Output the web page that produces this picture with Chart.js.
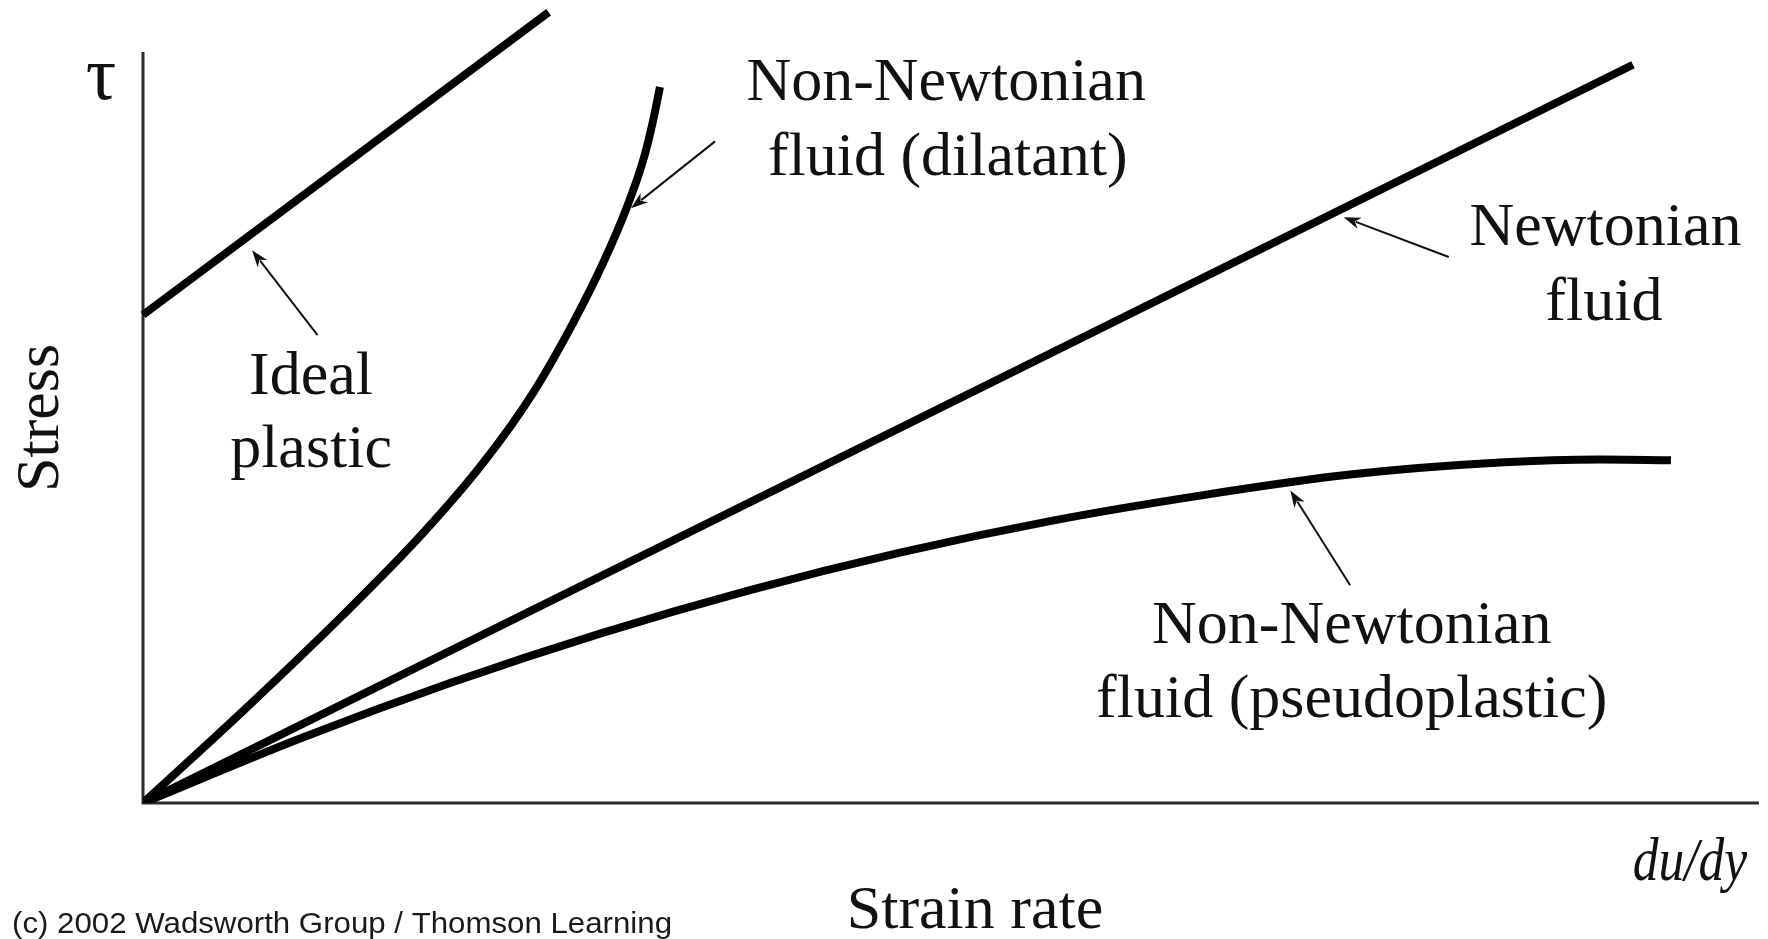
<!DOCTYPE html>
<html>
<head>
<meta charset="utf-8">
<script src="https://cdn.jsdelivr.net/npm/chart.js@4.4.0/dist/chart.umd.min.js"></script>
<style>
  html, body { margin: 0; padding: 0; background: #fff; }
  canvas { display: block; }
</style>
</head>
<body>
<canvas id="stressChart" width="1768" height="939"></canvas>
<script>
// strain rate (x) and stress (y), arbitrary units 0..10
var idealX = [0, 2.51];
var idealY = [6.50, 10.53];

var newtonX = [0, 9.22];
var newtonY = [0, 9.83];

var dilatantX = [0, 0.619, 1.238, 1.733, 2.104, 2.413, 2.661, 2.847, 2.995, 3.094, 3.156, 3.199];
var dilatantY = [0, 1.225, 2.503, 3.595, 4.527, 5.459, 6.391, 7.190, 7.936, 8.549, 9.081, 9.534];

var pseudoX = [0, 0.972, 1.900, 2.828, 3.756, 4.684, 5.613, 6.541, 7.469, 8.397, 9.016, 9.455];
var pseudoY = [0, 0.858, 1.597, 2.256, 2.835, 3.334, 3.754, 4.093, 4.373, 4.533, 4.573, 4.563];

// curve labels, anchored at (centre x, baseline y) in data units
var labelText = ['Ideal', 'plastic', 'Non-Newtonian', 'fluid (dilatant)', 'Newtonian', 'fluid',
                 'Non-Newtonian', 'fluid (pseudoplastic)'];
var labelX = [1.04, 1.04, 4.97, 4.98, 9.05, 9.04, 7.48, 7.48];
var labelY = [5.45, 4.47, 9.36, 8.36, 7.43, 6.43, 2.13, 1.15];

// pointer arrows: tail -> tip
var arrowTailX = [1.08, 3.54, 8.08, 7.47];
var arrowTailY = [6.23, 8.81, 7.27, 2.90];
var arrowTipX = [0.675, 3.02, 7.43, 7.10];
var arrowTipY = [7.36, 7.92, 7.80, 4.16];

function pts(xs, ys) {
  return xs.map(function (v, i) { return { x: v, y: ys[i] }; });
}

var serif = '"Liberation Serif", "Times New Roman", serif';

function drawArrow(ctx, x1, y1, x2, y2) {
  var ang = Math.atan2(y2 - y1, x2 - x1);
  var len = 17, half = 6;
  var bx = x2 - Math.cos(ang) * len, by = y2 - Math.sin(ang) * len;
  ctx.lineWidth = 2;
  ctx.beginPath();
  ctx.moveTo(x1, y1);
  ctx.lineTo(bx + Math.cos(ang) * 4, by + Math.sin(ang) * 4);
  ctx.stroke();
  ctx.beginPath();
  ctx.moveTo(x2, y2);
  ctx.lineTo(bx - Math.sin(ang) * half, by + Math.cos(ang) * half);
  ctx.lineTo(bx + Math.cos(ang) * 5, by + Math.sin(ang) * 5);
  ctx.lineTo(bx + Math.sin(ang) * half, by - Math.cos(ang) * half);
  ctx.closePath();
  ctx.fill();
}

var axesPlugin = {
  id: 'axesLines',
  beforeDatasetsDraw: function (chart) {
    var ctx = chart.ctx, x = chart.scales.x, y = chart.scales.y;
    ctx.save();
    ctx.strokeStyle = '#2a2a2a';
    ctx.lineWidth = 3;
    ctx.beginPath();
    ctx.moveTo(x.getPixelForValue(0), y.getPixelForValue(10));
    ctx.lineTo(x.getPixelForValue(0), y.getPixelForValue(0));
    ctx.lineTo(x.getPixelForValue(10), y.getPixelForValue(0));
    ctx.stroke();
    ctx.restore();
  }
};

var notesPlugin = {
  id: 'notes',
  afterDatasetsDraw: function (chart) {
    var ctx = chart.ctx, x = chart.scales.x, y = chart.scales.y;
    var ox = x.getPixelForValue(0), oy = y.getPixelForValue(0);
    ctx.save();
    ctx.fillStyle = '#111';
    ctx.strokeStyle = '#111';

    ctx.font = '62px ' + serif;
    ctx.textAlign = 'center';
    ctx.textBaseline = 'alphabetic';
    labelText.forEach(function (t, i) {
      ctx.fillText(t, x.getPixelForValue(labelX[i]), y.getPixelForValue(labelY[i]));
    });

    for (var i = 0; i < arrowTipX.length; i++) {
      drawArrow(ctx,
        x.getPixelForValue(arrowTailX[i]), y.getPixelForValue(arrowTailY[i]),
        x.getPixelForValue(arrowTipX[i]), y.getPixelForValue(arrowTipY[i]));
    }

    // axis titles
    ctx.fillText('Strain rate', 975, oy + 125);

    ctx.save();
    ctx.font = '76px ' + serif;
    ctx.fillText('\u03C4', ox - 42, y.getPixelForValue(10) + 47);
    ctx.restore();

    ctx.save();
    ctx.textAlign = 'right';
    ctx.font = 'italic 62px ' + serif;
    ctx.translate(x.getPixelForValue(10) - 12, oy + 77);
    ctx.scale(0.83, 1);
    ctx.fillText('du/dy', 0, 0);
    ctx.restore();

    ctx.save();
    ctx.font = '62px ' + serif;
    ctx.textAlign = 'center';
    ctx.translate(ox - 85, 418);
    ctx.rotate(-Math.PI / 2);
    ctx.fillText('Stress', 0, 0);
    ctx.restore();

    // credit line, stretched to the width it has in the figure
    ctx.save();
    ctx.font = '30px "Liberation Sans", Arial, sans-serif';
    ctx.textAlign = 'left';
    ctx.fillStyle = '#1a1a1a';
    var credit = '(c) 2002 Wadsworth Group / Thomson Learning';
    var w = ctx.measureText(credit).width;
    ctx.translate(12, 933);
    ctx.scale(660 / w, 1);
    ctx.fillText(credit, 0, 0);
    ctx.restore();

    ctx.restore();
  }
};

var curve = {
  borderColor: '#000',
  borderWidth: 8,
  pointRadius: 0,
  fill: false,
  borderCapStyle: 'butt',
  borderJoinStyle: 'round'
};

var ctx = document.getElementById('stressChart');
var stressChart = new Chart(ctx, {
  type: 'scatter',
  data: {
    datasets: [
      Object.assign({ label: 'Ideal plastic', data: pts(idealX, idealY), showLine: true, clip: false }, curve),
      Object.assign({ label: 'Newtonian fluid', data: pts(newtonX, newtonY), showLine: true }, curve),
      Object.assign({ label: 'Non-Newtonian fluid (dilatant)', data: pts(dilatantX, dilatantY),
        showLine: true, cubicInterpolationMode: 'monotone' }, curve),
      Object.assign({ label: 'Non-Newtonian fluid (pseudoplastic)', data: pts(pseudoX, pseudoY),
        showLine: true, cubicInterpolationMode: 'monotone' }, curve)
    ]
  },
  options: {
    responsive: false,
    animation: false,
    layout: { padding: { left: 143, right: 9, top: 52, bottom: 136 } },
    plugins: { legend: { display: false }, tooltip: { enabled: false } },
    scales: {
      x: { type: 'linear', min: 0, max: 10, display: false },
      y: { type: 'linear', min: 0, max: 10, display: false }
    }
  },
  plugins: [axesPlugin, notesPlugin]
});
</script>
</body>
</html>
